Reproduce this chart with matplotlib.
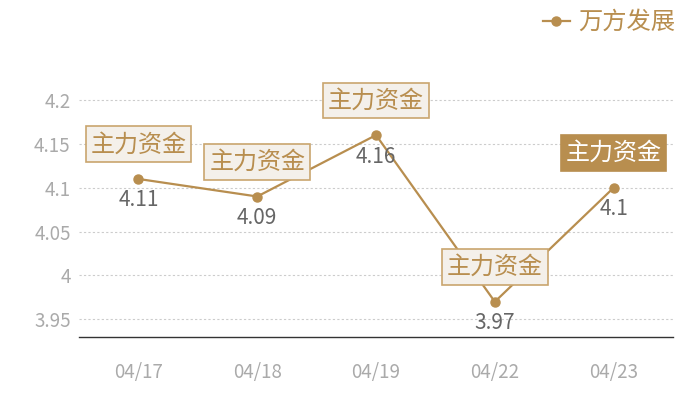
import numpy as np
import matplotlib
matplotlib.use('Agg')
from matplotlib import pyplot as plt

plt.rcParams['font.family'] = ['Noto Sans CJK SC', 'DejaVu Sans']

dates = ['04/17', '04/18', '04/19', '04/22', '04/23']
values = [4.11, 4.09, 4.16, 3.97, 4.10]
series_name = '万方发展'
tag_text = '主力资金'
y_ticks = [3.95, 4.0, 4.05, 4.1, 4.15, 4.2]

gold = '#b88e4f'
tag_face = '#f4f0ea'
tag_edge = '#c9a56e'

fig = plt.figure(figsize=(7, 4), dpi=100)
ax = fig.add_axes([0.1129, 0.1568, 0.8486, 0.7028])

x = np.arange(len(dates))
line, = ax.plot(x, values, color=gold, linewidth=1.6, marker='o',
                markersize=6.5, zorder=3, label=series_name)

# value labels under each point
for xi, v in zip(x, values):
    ax.annotate(f'{v:g}', (xi, v), xytext=(0, -15.5), textcoords='offset points',
                ha='center', va='center', fontsize=15, color='#666666', zorder=4)

# tag boxes above each point, last one highlighted
for i, (xi, v) in enumerate(zip(x, values)):
    last = i == len(values) - 1
    ax.annotate(tag_text, (xi, v), xytext=(0, 25), textcoords='offset points',
                ha='center', va='center', fontsize=17.3,
                color='white' if last else gold, zorder=5,
                bbox=dict(boxstyle='square,pad=0.2',
                          fc=gold if last else tag_face,
                          ec=gold if last else tag_edge, lw=1.2))

ax.set_xlim(-0.5, len(dates) - 0.5)
ax.set_ylim(3.9295, 4.25)
ax.set_xticks(x)
ax.set_xticklabels(dates)
ax.set_yticks(y_ticks)
ax.set_yticklabels([f'{t:g}' for t in y_ticks])
ax.tick_params(axis='both', length=0, labelsize=13.5, labelcolor='#aaaaaa')
ax.tick_params(axis='x', pad=18)
ax.tick_params(axis='y', pad=6)

ax.grid(axis='y', color='#cccccc', linestyle=(0, (2, 2)), linewidth=0.8)
ax.set_axisbelow(True)
for side in ['top', 'right', 'left']:
    ax.spines[side].set_visible(False)
ax.spines['bottom'].set_color('#333333')
ax.spines['bottom'].set_linewidth(1.0)

fig.legend(handles=[line], loc='upper right', bbox_to_anchor=(0.996, 1.032),
           frameon=False, fontsize=17.5, labelcolor=gold, handlelength=1.1,
           handletextpad=0.35, markerscale=1.0)

fig.savefig('out.png', dpi=100)
